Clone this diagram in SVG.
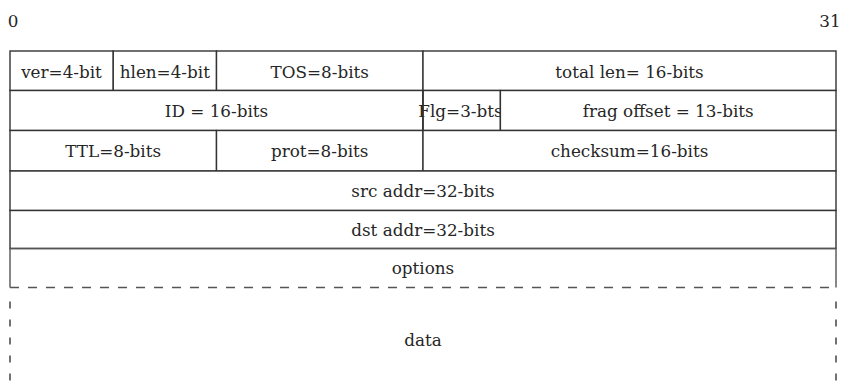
<svg xmlns="http://www.w3.org/2000/svg" width="846" height="386" viewBox="0 0 846 386">
<style>
.cell{fill:#ffffff;stroke:#333333;stroke-width:1.4}
.t{font-family:"DejaVu Serif","Liberation Serif",serif;font-size:16.8px;fill:#262626;text-anchor:middle}
.dash{fill:none;stroke:#555555;stroke-width:1.4}
.vdash{fill:none;stroke:#444444;stroke-width:1.5;stroke-dasharray:7 11}
</style>
<defs>
<clipPath id="flgclip"><rect x="400" y="90" width="100" height="41"/></clipPath>
</defs>
<rect width="846" height="386" fill="#ffffff"/>
<text class="t" x="13" y="27">0</text>
<text class="t" x="830" y="27">31</text>
<g id="ver"><rect class="cell" x="10" y="51" width="103.25" height="39.5"/><text class="t" x="61.5" y="77.5">ver=4-bit</text></g>
<g id="hlen"><rect class="cell" x="113.25" y="51" width="103.25" height="39.5"/><text class="t" x="164.8" y="77.5">hlen=4-bit</text></g>
<g id="tos"><rect class="cell" x="216.5" y="51" width="206.5" height="39.5"/><text class="t" x="319.7" y="77.5">TOS=8-bits</text></g>
<g id="totallen"><rect class="cell" x="423" y="51" width="413" height="39.5"/><text class="t" x="629.5" y="77.5">total len= 16-bits</text></g>
<g id="id"><rect class="cell" x="10" y="90.5" width="413" height="40"/><text class="t" x="216.5" y="117">ID = 16-bits</text></g>
<g id="flg"><rect class="cell" x="423" y="90.5" width="77.4" height="40"/><text class="t" x="460.5" y="117" clip-path="url(#flgclip)">Flg=3-bts</text><line x1="423" y1="90.5" x2="423" y2="130.5" stroke="#333333" stroke-width="1.4"/></g>
<g id="frag"><rect class="cell" x="500.4" y="90.5" width="335.6" height="40"/><text class="t" x="668.2" y="117">frag offset = 13-bits</text></g>
<g id="ttl"><rect class="cell" x="10" y="130.5" width="206.5" height="40.5"/><text class="t" x="113.2" y="157">TTL=8-bits</text></g>
<g id="prot"><rect class="cell" x="216.5" y="130.5" width="206.5" height="40.5"/><text class="t" x="319.7" y="157">prot=8-bits</text></g>
<g id="checksum"><rect class="cell" x="423" y="130.5" width="413" height="40.5"/><text class="t" x="629.5" y="157">checksum=16-bits</text></g>
<g id="src"><rect class="cell" x="10" y="171" width="826" height="39.5"/><text class="t" x="423" y="196.5">src addr=32-bits</text></g>
<g id="dst"><rect class="cell" x="10" y="210.5" width="826" height="38"/><text class="t" x="423" y="235.5">dst addr=32-bits</text></g>
<g id="options"><path class="dash" d="M10 287.5 V248.5 H836 V287.5" stroke="#333333"/><text class="t" x="423" y="274">options</text></g>
<g id="data">
<line class="dash" x1="10" y1="287.5" x2="836" y2="287.5" stroke-dasharray="9 9"/>
<line class="vdash" x1="10" y1="301.5" x2="10" y2="386"/>
<line class="vdash" x1="836" y1="301.5" x2="836" y2="386"/>
<text class="t" x="423" y="346">data</text>
</g>
</svg>
